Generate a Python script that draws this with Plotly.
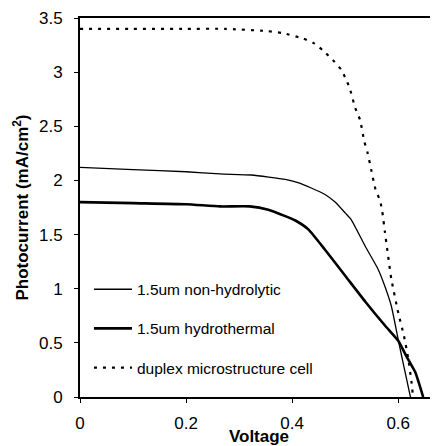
import plotly.graph_objects as go

# values
v_nonhyd = [0, 0.10, 0.20, 0.264, 0.323, 0.387, 0.411, 0.436, 0.462, 0.481, 0.50, 0.511,
            0.538, 0.562, 0.575, 0.587, 0.60, 0.609, 0.623]
j_nonhyd = [2.12, 2.10, 2.08, 2.06, 2.05, 2.01, 1.98, 1.93, 1.87, 1.80, 1.70, 1.64,
            1.39, 1.18, 1.02, 0.84, 0.53, 0.32, 0.0]

v_hydro = [0, 0.10, 0.20, 0.264, 0.32, 0.355, 0.387, 0.406, 0.43, 0.462, 0.50, 0.538,
           0.575, 0.60, 0.615, 0.632, 0.647]
j_hydro = [1.80, 1.79, 1.78, 1.76, 1.76, 1.73, 1.67, 1.63, 1.55, 1.36, 1.12, 0.88,
           0.66, 0.52, 0.38, 0.23, 0.0]

v_duplex = [0, 0.10, 0.20, 0.273, 0.351, 0.383, 0.421, 0.44, 0.458, 0.477, 0.493, 0.50,
            0.508, 0.519, 0.528, 0.536, 0.542, 0.549, 0.557, 0.566, 0.570, 0.575, 0.587,
            0.60, 0.611, 0.619, 0.625, 0.628]
j_duplex = [3.40, 3.40, 3.40, 3.40, 3.38, 3.36, 3.31, 3.27, 3.20, 3.11, 3.02, 2.95,
            2.86, 2.67, 2.56, 2.36, 2.26, 2.10, 1.92, 1.81, 1.71, 1.52, 1.09,
            0.78, 0.56, 0.35, 0.14, 0.0]

x_ticks = [0, 0.2, 0.4, 0.6]
x_labels = ["0", "0.2", "0.4", "0.6"]
y_ticks = [0, 0.5, 1, 1.5, 2, 2.5, 3, 3.5]
y_labels = ["0", "0.5", "1", "1.5", "2", "2.5", "3", "3.5"]

fig = go.Figure()
fig.add_trace(go.Scatter(x=v_nonhyd, y=j_nonhyd, mode="lines", name="1.5um non-hydrolytic",
                         legendgroup="a",
                         line=dict(color="black", width=1.3, shape="spline", smoothing=0.5)))
fig.add_trace(go.Scatter(x=v_hydro, y=j_hydro, mode="lines", name="1.5um hydrothermal",
                         legendgroup="b",
                         line=dict(color="black", width=2.6, shape="spline", smoothing=0.5)))
fig.add_trace(go.Scatter(x=v_duplex, y=j_duplex, mode="lines", name="duplex microstructure cell",
                         legendgroup="c",
                         line=dict(color="black", width=2.2, dash="3px,6px",
                                   shape="spline", smoothing=0.5)))

# the page body adds 8px around the figure, so the figure is 8px smaller
fig.update_layout(
    width=430, height=438,
    margin=dict(l=72, r=0, t=10, b=49),
    plot_bgcolor="white", paper_bgcolor="white",
    font=dict(family="Liberation Sans, Arial", size=16, color="black"),
    legend=dict(x=0.025, y=0.328, xanchor="left", yanchor="top",
                bgcolor="rgba(0,0,0,0)", traceorder="grouped", tracegroupgap=16,
                itemwidth=38, font=dict(size=15.5)),
    xaxis=dict(range=[0, 0.675], tickvals=x_ticks, ticktext=x_labels,
               showgrid=False, zeroline=False, showline=True, linecolor="black",
               linewidth=2, mirror=True, ticks="outside", ticklen=4, tickcolor="black",
               ticklabelstandoff=6, tickfont=dict(size=17), automargin=False,
               title=dict(text="<b>Voltage</b>", standoff=3, font=dict(size=17))),
    yaxis=dict(range=[0, 3.5], tickvals=y_ticks, ticktext=y_labels,
               showgrid=False, zeroline=False, showline=True, linecolor="black",
               linewidth=2, ticks="outside", ticklen=4, tickcolor="black",
               ticklabelstandoff=8, tickfont=dict(size=17), automargin=False,
               title=dict(text="<b>Photocurrent (mA/cm<sup>2</sup>)</b>", standoff=6,
                          font=dict(size=17))),
)

fig.write_html("out.html")
